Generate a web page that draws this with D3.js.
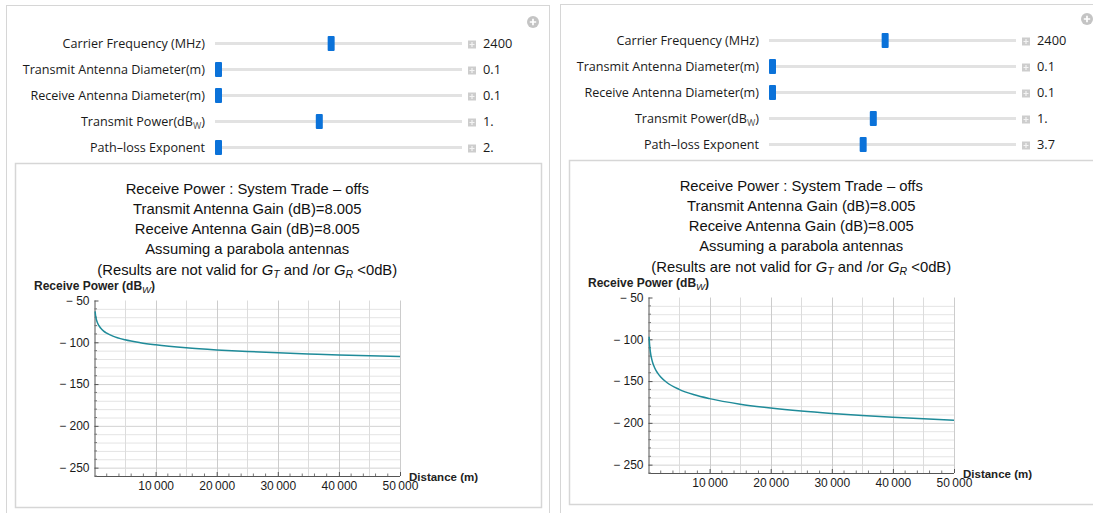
<!DOCTYPE html>
<html><head><meta charset="utf-8">
<script src="https://cdn.jsdelivr.net/npm/d3@7"></script>
<style>
html,body{margin:0;padding:0;background:#fff;}
svg{display:block;}
</style></head>
<body>
<svg id="c" width="1093" height="513"></svg>
<script>
// ---------------- data ----------------
const distances = [100,150,200,300,500,700,1000,1500,2000,3000,5000,7500,10000,15000,20000,25000,30000,35000,40000,45000,50000];
const powerLeft  = [-63.0,-66.6,-69.1,-72.6,-77.0,-79.9,-83.0,-86.6,-89.1,-92.6,-97.0,-100.5,-103.0,-106.6,-109.1,-111.0,-112.6,-113.9,-115.1,-116.1,-117.0];
const powerRight = [-97.0,-103.5,-108.2,-114.7,-122.9,-128.3,-134.0,-140.5,-145.2,-151.7,-159.9,-166.4,-171.0,-177.6,-182.2,-185.8,-188.7,-191.2,-193.3,-195.2,-196.9];

const sliderLabels = ["Carrier Frequency (MHz)","Transmit Antenna Diameter(m)","Receive Antenna Diameter(m)","Transmit Power(dB","Path\u2013loss Exponent"];
const sliderSub    = ["","","","W",""];
const sliderMin    = [100, 0.1, 0.1, -20, 2];
const sliderMax    = [5000, 5, 5, 30, 6.5];
const leftValues   = [2400, 0.1, 0.1, 1, 2];
const rightValues  = [2400, 0.1, 0.1, 1, 3.7];
const leftValueText  = ["2400","0.1","0.1","1.","2."];
const rightValueText = ["2400","0.1","0.1","1.","3.7"];

const titleLines = ["Receive Power :  System Trade \u2013 offs","Transmit Antenna Gain (dB)=8.005","Receive Antenna Gain (dB)=8.005","Assuming a parabola antennas"];
const yTicks = [-50,-100,-150,-200,-250];
const yTickLabels = ["\u2212 50","\u2212 100","\u2212 150","\u2212 200","\u2212 250"];
const xTicks = [10000,20000,30000,40000,50000];
const xTickLabels = ["10\u2009000","20\u2009000","30\u2009000","40\u2009000","50\u2009000"];
const xDomain = [0, 50000];
const yDomain = [-260, -50];

// ---------------- drawing ----------------
const svg = d3.select("#c");
svg.append("rect").attr("width",1093).attr("height",513).attr("fill","#fff");

const uiFont = "'Open Sans', 'Noto Sans', sans-serif";
const plotFont = "'Liberation Sans', Arial, sans-serif";

function panel(dx, dy, outerTop, values, valueText, power) {
  const g = svg.append("g").attr("transform", `translate(${dx},${dy})`);
  // outer frame
  g.append("rect").attr("x",6.5).attr("y",outerTop+0.5).attr("width",543).attr("height",600)
    .attr("fill","none").attr("stroke","#d6d6d6").attr("stroke-width",1);
  // top-right plus circle
  const pc = g.append("g").attr("transform","translate(533,22)");
  pc.append("circle").attr("r",6).attr("fill","#c4c4c4");
  pc.append("path").attr("d","M-3.2,0H3.2M0,-3.2V3.2").attr("stroke","#fff").attr("stroke-width",1.7);

  // sliders
  const rows = g.selectAll("g.row").data(sliderLabels).join("g").attr("class","row")
    .attr("transform",(d,i)=>`translate(0,${43.5 + i*26})`);
  const lab = rows.append("text").attr("x",205).attr("y",4.5).attr("text-anchor","end")
    .attr("font-family",uiFont).attr("font-size",12.6).attr("fill","#1a1a1a");
  lab.append("tspan").text(d=>d);
  lab.filter((d,i)=>sliderSub[i]).each(function(d){
    const t = d3.select(this);
    const idx = sliderLabels.indexOf(d);
    t.append("tspan").attr("font-size",9).attr("dy",3).attr("fill","#555").text(sliderSub[idx]);
    t.append("tspan").attr("dy",-3).text(")");
  });
  rows.append("rect").attr("x",215).attr("y",-1.5).attr("width",247).attr("height",3).attr("fill","#e2e2e2");
  rows.append("rect")
    .attr("x",(d,i)=>d3.scaleLinear().domain([sliderMin[i],sliderMax[i]]).range([218.5,458.5])(values[i]) - 3.5)
    .attr("y",-7.5).attr("width",7).attr("height",15).attr("rx",1).attr("fill","#0b72d9");
  const pb = rows.append("g").attr("transform","translate(472,1)");
  pb.append("rect").attr("x",-4).attr("y",-4).attr("width",8).attr("height",8).attr("fill","#cdcdcd");
  pb.append("path").attr("d","M-2.5,0H2.5M0,-2.5V2.5").attr("stroke","#f4f4f4").attr("stroke-width",1.2);
  rows.append("text").attr("x",483).attr("y",4.5).attr("font-family",uiFont).attr("font-size",12.8)
    .attr("fill","#1a1a1a").text((d,i)=>valueText[i]);

  // inner frame
  g.append("rect").attr("x",15.5).attr("y",163.5).attr("width",526).attr("height",344)
    .attr("fill","none").attr("stroke","#d6d6d6").attr("stroke-width",1.5);

  // scales
  const x = d3.scaleLinear().domain(xDomain).range([94.5, 400]);
  const y = d3.scaleLinear().domain(yDomain).range([476, 300.5]);
  const cx = (94.5+400)/2;

  // title
  const tl = g.append("g").attr("font-family",plotFont).attr("font-size",14.8).attr("fill","#111").attr("text-anchor","middle");
  titleLines.forEach((t,i)=>{
    tl.append("text").attr("x",cx).attr("y",193.5 + i*20.3).text(t);
  });
  const last = tl.append("text").attr("x",cx).attr("y",274.5);
  last.append("tspan").text("(Results are not valid for ");
  last.append("tspan").attr("font-style","italic").text("G");
  last.append("tspan").attr("font-style","italic").attr("font-size",10.5).attr("dy",3).text("T");
  last.append("tspan").attr("dy",-3).text(" and /or ");
  last.append("tspan").attr("font-style","italic").text("G");
  last.append("tspan").attr("font-style","italic").attr("font-size",10.5).attr("dy",3).text("R");
  last.append("tspan").attr("dy",-3).text(" <0dB)");

  // y-axis label
  const yl = g.append("text").attr("x",34).attr("y",290).attr("font-family",plotFont)
    .attr("font-size",12).attr("font-weight","bold").attr("fill","#222");
  yl.append("tspan").text("Receive Power (dB");
  yl.append("tspan").attr("font-size",9.5).attr("font-style","italic").attr("font-weight","normal").attr("dy",3).text("W");
  yl.append("tspan").attr("dy",-3).text(")");

  // grid
  const grid = g.append("g");
  const hMinor = d3.range(-250,-50,10);
  grid.selectAll("line.h").data(hMinor).join("line")
    .attr("x1",x(0)).attr("x2",x(50000)).attr("y1",d=>y(d)+0.5).attr("y2",d=>y(d)+0.5)
    .attr("stroke",d=>d%50===0?"#d2d2d2":"#e4e4e4").attr("stroke-width",1);
  grid.selectAll("line.v").data(d3.range(5000,50001,5000)).join("line")
    .attr("x1",d=>Math.round(x(d))+0.5).attr("x2",d=>Math.round(x(d))+0.5).attr("y1",y(-50)).attr("y2",y(-260))
    .attr("stroke",d=>d%10000===0?"#cccccc":"#dcdcdc").attr("stroke-width",1);

  // axes
  const ax = g.append("g").attr("transform",`translate(0,${y(-260)})`)
    .call(d3.axisBottom(x).tickValues(xTicks).tickSize(-4).tickPadding(6).tickFormat((d,i)=>xTickLabels[i]));
  ax.select(".domain").attr("d",`M${x(0)},0.5H${x(50000)}`).attr("stroke","#555");
  ax.selectAll("text").attr("font-family",plotFont).attr("font-size",12).attr("fill","#1a1a1a").attr("dy","0.95em").attr("y",3);
  ax.selectAll(".tick line").attr("stroke","#555");
  g.append("g").attr("transform",`translate(0,${y(-260)})`).selectAll("line")
    .data(d3.range(2000,50000,2000).filter(v=>v%10000!==0)).join("line")
    .attr("x1",d=>x(d)).attr("x2",d=>x(d)).attr("y1",0).attr("y2",-2.5).attr("stroke","#777");

  const ay = g.append("g").attr("transform",`translate(${x(0)},0)`)
    .call(d3.axisLeft(y).tickValues(yTicks).tickSize(-4).tickPadding(6).tickFormat((d,i)=>yTickLabels[i]));
  ay.select(".domain").attr("d",`M0.5,${y(-50)}V${y(-260)}`).attr("stroke","#555");
  ay.selectAll("text").attr("font-family",plotFont).attr("font-size",12).attr("fill","#1a1a1a").attr("x",-5);
  ay.selectAll(".tick line").attr("stroke","#555");
  g.append("g").attr("transform",`translate(${x(0)},0)`).selectAll("line")
    .data(d3.range(-260,-50,10).filter(v=>v%50!==0)).join("line")
    .attr("x1",0).attr("x2",2.5).attr("y1",d=>y(d)).attr("y2",d=>y(d)).attr("stroke","#777");

  g.append("text").attr("x",409).attr("y",480.5).attr("font-family",plotFont).attr("font-size",11.5)
    .attr("font-weight","bold").attr("fill","#222").text("Distance (m)");

  // curve
  const line = d3.line().x((d,i)=>x(distances[i])).y(d=>y(d)).curve(d3.curveMonotoneX);
  g.append("path").datum(power).attr("d",line).attr("fill","none")
    .attr("stroke","#1f8b99").attr("stroke-width",1.5);
}

panel(0, 0, 5, leftValues, leftValueText, powerLeft);
panel(554, -3, 7, rightValues, rightValueText, powerRight);
</script>
</body></html>
